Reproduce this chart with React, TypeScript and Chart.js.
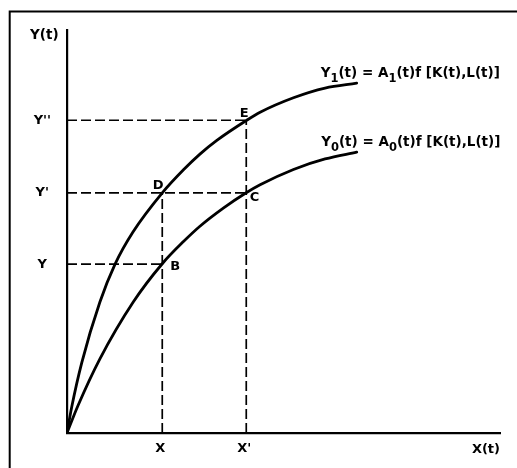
import React, { useEffect, useRef } from "react";
import { Chart, registerables } from "chart.js";

Chart.register(...registerables);

// Tick positions (data units) and labels
const xTickValues = [2.2, 4.14];
const xTickLabels = ["X", "X'"];
const yTickValues = [4.19, 5.96, 7.76];
const yTickLabels = ["Y", "Y'", "Y''"];

// Curve Y1(t) = A1(t) f[K(t),L(t)]
const y1X = [0, 0.11, 0.34, 0.76, 1.11, 1.52, 2.21, 2.69, 3.07, 3.46, 4.15, 4.46, 5.23, 5.96, 6.69];
const y1Y = [0, 0.65, 1.74, 3.25, 4.19, 4.98, 5.97, 6.53, 6.92, 7.26, 7.76, 7.96, 8.32, 8.56, 8.68];

// Curve Y0(t) = A0(t) f[K(t),L(t)]
const y0X = [0, 0.25, 0.76, 1.53, 2.2, 2.69, 3.07, 3.61, 4.12, 4.46, 5.23, 5.96, 6.69];
const y0Y = [0, 0.67, 1.84, 3.25, 4.2, 4.75, 5.13, 5.58, 5.95, 6.16, 6.54, 6.8, 6.97];

// Point letters
const pointLetters = ["B", "C", "D", "E"];

// Equation labels: alternating [main, sub, main, sub, main]
const equationY1 = ["Y", "1", "(t) = A", "1", "(t)f [K(t),L(t)]"];
const equationY0 = ["Y", "0", "(t) = A", "0", "(t)f [K(t),L(t)]"];

const axisTitleY = "Y(t)";
const axisTitleX = "X(t)";

const FAMILY = '"DejaVu Sans", "Liberation Sans", sans-serif';

const [X0, X1] = xTickValues;
const [Ya, Yb, Yc] = yTickValues;

const toPts = (xs: number[], ys: number[]) => xs.map((x, i) => ({ x, y: ys[i] }));

const guideSegments = [
  [{ x: 0, y: Yc }, { x: X1, y: Yc }],
  [{ x: 0, y: Yb }, { x: X1, y: Yb }],
  [{ x: 0, y: Ya }, { x: X0, y: Ya }],
  [{ x: X0, y: 0 }, { x: X0, y: Yb }],
  [{ x: X1, y: 0 }, { x: X1, y: Yc }],
];

const letterPoints = [
  { x: X0, y: Ya },
  { x: X1, y: Yb },
  { x: X0, y: Yb },
  { x: X1, y: Yc },
];

function drawEquation(ctx: CanvasRenderingContext2D, parts: string[], x: number, y: number) {
  let cx = x;
  parts.forEach((t, i) => {
    const sub = i % 2 === 1;
    ctx.font = sub ? `bold 11.5px ${FAMILY}` : `bold 13.5px ${FAMILY}`;
    ctx.fillText(t, cx, sub ? y + 5 : y);
    cx += ctx.measureText(t).width;
  });
}

const framePlugin = {
  id: "frame",
  beforeDraw(chart: any) {
    const ctx = chart.ctx as CanvasRenderingContext2D;
    ctx.save();
    ctx.fillStyle = "#fff";
    ctx.fillRect(0, 0, chart.width, chart.height);
    ctx.strokeStyle = "#000";
    ctx.lineWidth = 2;
    ctx.beginPath();
    ctx.moveTo(9.7, chart.height + 5);
    ctx.lineTo(9.7, 11.5);
    ctx.lineTo(chart.width + 5, 11.5);
    ctx.stroke();
    ctx.restore();
  },
};

const labelPlugin = {
  id: "labels",
  afterDatasetsDraw(chart: any) {
    const ctx = chart.ctx as CanvasRenderingContext2D;
    const xs = chart.scales.x;
    const ys = chart.scales.y;
    const area = chart.chartArea;
    ctx.save();
    ctx.fillStyle = "#000";
    ctx.textBaseline = "alphabetic";

    // axis titles
    ctx.font = `bold 13.5px ${FAMILY}`;
    ctx.textAlign = "left";
    ctx.fillText(axisTitleY, area.left - 37, area.top + 9);
    ctx.textAlign = "right";
    ctx.font = `bold 13px ${FAMILY}`;
    ctx.fillText(axisTitleX, area.right, area.bottom + 20);

    // point letters
    ctx.font = `bold 13px ${FAMILY}`;
    const offsets = [
      { dx: 8, dy: 6, align: "left" },
      { dx: 3.5, dy: 8, align: "left" },
      { dx: -4, dy: -4, align: "center" },
      { dx: -2, dy: -3, align: "center" },
    ];
    pointLetters.forEach((L, i) => {
      const p = letterPoints[i];
      const o = offsets[i];
      ctx.textAlign = o.align as CanvasTextAlign;
      ctx.fillText(L, xs.getPixelForValue(p.x) + o.dx, ys.getPixelForValue(p.y) + o.dy);
    });

    // equations near curve ends
    ctx.textAlign = "left";
    const e1x = xs.getPixelForValue(y1X[y1X.length - 1]);
    const e1y = ys.getPixelForValue(y1Y[y1Y.length - 1]);
    drawEquation(ctx, equationY1, e1x - 36, e1y - 6.5);
    const e0x = xs.getPixelForValue(y0X[y0X.length - 1]);
    const e0y = ys.getPixelForValue(y0Y[y0Y.length - 1]);
    drawEquation(ctx, equationY0, e0x - 35.5, e0y - 6);
    ctx.restore();
  },
};

export default function App() {
  const ref = useRef<HTMLCanvasElement>(null);

  useEffect(() => {
    if (!ref.current) return;
    const curveStyle = {
      showLine: true,
      borderColor: "#000",
      borderWidth: 2.8,
      pointRadius: 0,
      cubicInterpolationMode: "monotone" as const,
      borderCapStyle: "round" as const,
      borderJoinStyle: "round" as const,
      fill: false,
    };
    const datasets: any[] = [
      { label: "Y1", data: toPts(y1X, y1Y), ...curveStyle },
      { label: "Y0", data: toPts(y0X, y0Y), ...curveStyle },
      ...guideSegments.map((seg, i) => ({
        label: "guide" + i,
        data: seg,
        showLine: true,
        borderColor: "#000",
        borderWidth: 1.7,
        borderDash: [10, 4],
        pointRadius: 0,
        fill: false,
      })),
    ];

    const tickFont = { family: FAMILY, weight: "bold" as const, size: 13 };

    const chart = new Chart(ref.current, {
      type: "scatter",
      data: { datasets },
      options: {
        responsive: false,
        animation: false,
        events: [],
        layout: { padding: { left: 0, top: 30, right: 17, bottom: 0 } },
        plugins: { legend: { display: false }, tooltip: { enabled: false } },
        scales: {
          x: {
            type: "linear",
            position: "bottom",
            min: 0,
            max: 10,
            grid: { display: false, drawTicks: false },
            border: { display: true, color: "#000", width: 2.2 },
            afterBuildTicks: (s: any) => {
              s.ticks = xTickValues.map((v) => ({ value: v }));
            },
            afterFit: (s: any) => {
              s.height = 35;
            },
            ticks: {
              autoSkip: false,
              maxRotation: 0,
              padding: 8,
              labelOffset: -2,
              color: "#000",
              font: tickFont,
              callback: (_v: any, i: number) => xTickLabels[i],
            },
          },
          y: {
            type: "linear",
            position: "left",
            min: 0,
            max: 10,
            grid: { display: false, drawTicks: false },
            border: { display: true, color: "#000", width: 2.2 },
            afterBuildTicks: (s: any) => {
              s.ticks = yTickValues.map((v) => ({ value: v }));
            },
            afterFit: (s: any) => {
              s.width = 67;
            },
            ticks: {
              autoSkip: false,
              crossAlign: "center",
              padding: 16,
              color: "#000",
              font: tickFont,
              callback: (_v: any, i: number) => yTickLabels[i],
            },
          },
        },
      },
      plugins: [framePlugin, labelPlugin],
    } as any);

    return () => chart.destroy();
  }, []);

  return (
    <div style={{ position: "absolute", left: 0, top: 0, width: 517, height: 468, background: "#fff" }}>
      <canvas ref={ref} width={517} height={468} style={{ display: "block" }} />
    </div>
  );
}
